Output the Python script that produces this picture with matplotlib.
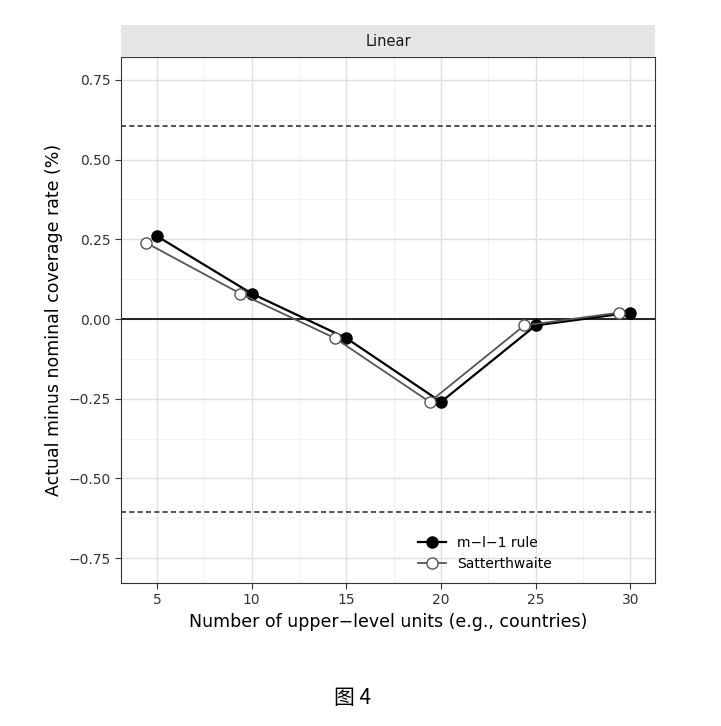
import matplotlib
matplotlib.use("Agg")
import matplotlib.pyplot as plt

units = [5, 10, 15, 20, 25, 30]
ml1 = [0.26, 0.08, -0.06, -0.26, -0.02, 0.02]
satt = [0.24, 0.08, -0.06, -0.26, -0.02, 0.02]
dodge = 0.6
yticks = [-0.75, -0.50, -0.25, 0.00, 0.25, 0.50, 0.75]
bound = 0.605

fig = plt.figure(figsize=(7.21, 7.26), dpi=100)
W, H = 721, 726
ax = fig.add_axes([121/W, 1-583/H, (655-121)/W, (583-57)/H])
ax.set_xlim(3.1, 31.3)
ax.set_ylim(-0.828, 0.822)
ax.set_xticks(units)
ax.set_yticks(yticks)
ax.set_yticklabels([f"{v:.2f}".replace("-", "−") for v in yticks])
ax.grid(True, color="#e0e0e0", lw=1.0)
for x in [7.5, 12.5, 17.5, 22.5, 27.5]:
    ax.axvline(x, color="#f0f0f0", lw=0.6, zorder=0)
for y in [-0.625, -0.375, -0.125, 0.125, 0.375, 0.625]:
    ax.axhline(y, color="#f0f0f0", lw=0.6, zorder=0)
ax.set_axisbelow(True)
for s in ax.spines.values():
    s.set_color("#333333"); s.set_linewidth(0.8)
ax.axhline(0, color="black", lw=1.2)
ax.axhline(bound, color="#333333", lw=1.2, ls=(0, (3, 2)))
ax.axhline(-bound, color="#333333", lw=1.2, ls=(0, (3, 2)))
ax.plot(units, ml1, color="black", lw=1.6, marker="o", ms=8, mfc="black", label="m−l−1 rule", zorder=3)
ax.plot([u - dodge for u in units], satt, color="#555555", lw=1.3, marker="o", ms=8,
        mfc="white", mec="#555555", label="Satterthwaite", zorder=3)
ax.tick_params(labelsize=10, colors="#333333", length=4)
ax.set_xlabel("Number of upper−level units (e.g., countries)", fontsize=12.5)
ax.set_ylabel("Actual minus nominal coverage rate (%)", fontsize=12.5)
ax.legend(loc="lower right", bbox_to_anchor=(0.83, 0.0), frameon=False, fontsize=10)

sax = fig.add_axes([121/W, 1-57/H, (655-121)/W, (57-25)/H])
sax.set_facecolor("#e6e6e6")
sax.set_xticks([]); sax.set_yticks([])
for s in sax.spines.values():
    s.set_visible(False)
sax.text(0.5, 0.5, "Linear", ha="center", va="center", fontsize=10.5, color="#1a1a1a")

fig.text(352/W, 1-698/H, "图 4", ha="center", va="center", fontsize=15,
         family=["Noto Sans CJK SC", "DejaVu Sans"])
fig.savefig("out.png", dpi=100)
